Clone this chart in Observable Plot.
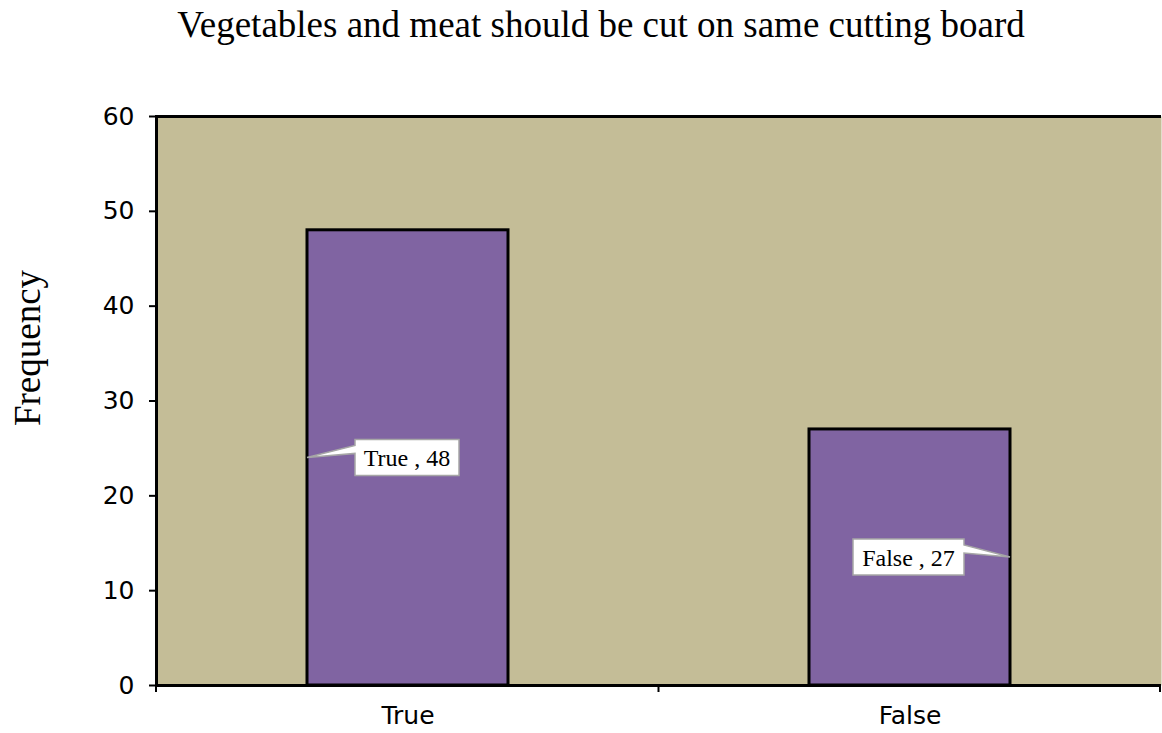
<!DOCTYPE html>
<html>
<head>
<meta charset="utf-8">
<script src="https://cdn.jsdelivr.net/npm/d3@7"></script>
<script src="https://cdn.jsdelivr.net/npm/@observablehq/plot@0.6"></script>
<style>
  html, body { margin: 0; padding: 0; background: white; }
</style>
</head>
<body>
<div id="chart"></div>
<script>
const titleText = "Vegetables and meat should be cut on same cutting board";
const yLabelText = "Frequency";
const categories = ["True", "False"];
const frequencies = [48, 27];
const yTicks = [0, 10, 20, 30, 40, 50, 60];
const calloutSides = ["left", "right"];

const data = categories.map((c, i) => ({category: c, freq: frequencies[i], side: calloutSides[i]}));

const serif = "'Liberation Serif', 'Times New Roman', serif";
const sans = "'DejaVu Sans', Verdana, sans-serif";

function measure(text, font) {
  const ctx = document.createElement("canvas").getContext("2d");
  ctx.font = font;
  return ctx.measureText(text).width;
}

function customLayer() {
  const a = arguments[0], b = arguments[1];
  const scales = (b && typeof b.x === "function") ? b : a;
  const dims = (b && typeof b.x === "function") ? arguments[3] : b;
  const x = scales.x, y = scales.y;
  const bw = x.bandwidth();
  const g = d3.create("svg:g");
  const bottom = y(0);
  // x axis tick marks at band boundaries
  const left = dims.marginLeft, right = dims.width - dims.marginRight;
  const bounds = [left];
  for (let i = 0; i < categories.length - 1; i++) {
    bounds.push((x(categories[i]) + bw + x(categories[i + 1])) / 2);
  }
  bounds.push(right - 1);
  for (const bx of bounds) {
    g.append("line").attr("x1", bx).attr("x2", bx).attr("y1", bottom).attr("y2", bottom + 7)
      .attr("stroke", "black").attr("stroke-width", 2);
  }
  // callouts
  const fontSize = 24;
  const font = fontSize + "px " + serif;
  for (const d of data) {
    const label = d.category + " , " + d.freq;
    const w = Math.round(measure(label, font)) + 18;
    const h = 36;
    const ay = y(d.freq / 2);
    let path, bx;
    const by = ay - h / 2;
    if (d.side === "left") {
      const ax = x(d.category);
      bx = ax + 48;
      path = `M${bx},${by}H${bx + w}V${by + h}H${bx}V${by + 14}L${ax},${ay}L${bx},${by + 6}Z`;
    } else {
      const ax = x(d.category) + bw;
      bx = ax - 46 - w;
      path = `M${bx},${by}H${bx + w}V${by + 6}L${ax},${ay}L${bx + w},${by + 14}V${by + h}H${bx}Z`;
    }
    g.append("path").attr("d", path).attr("fill", "white").attr("stroke", "#a6a6a6").attr("stroke-width", 1.5);
    g.append("text").attr("x", bx + w / 2).attr("y", ay + 1).attr("text-anchor", "middle")
      .attr("dominant-baseline", "central").attr("font-family", serif).attr("font-size", fontSize)
      .attr("fill", "black").text(label);
  }
  return g.node();
}

const chart = Plot.plot({
  width: 1162,
  height: 733,
  marginTop: 116,
  marginLeft: 156,
  marginRight: 1,
  marginBottom: 48,
  style: {background: "white", fontFamily: sans, fontSize: "25px", color: "black"},
  x: {domain: categories, paddingInner: 0.6, paddingOuter: 0.3, axis: null},
  y: {domain: [0, 60], axis: null},
  marks: [
    Plot.frame({fill: "#c4bd97", stroke: null}),
    Plot.barY(data, {x: "category", y: "freq", fill: "#8064a2", stroke: "black", strokeWidth: 3}),
    Plot.frame({anchor: "left", stroke: "black", strokeWidth: 3}),
    Plot.ruleY([0, 60], {stroke: "black", strokeWidth: 3}),
    Plot.axisY({ticks: yTicks, tickSize: 7, tickPadding: 15, strokeWidth: 2, label: null, fontSize: 25, tickFormat: d => String(d)}),
    Plot.axisX({tickSize: 0, tickPadding: 21, label: null, fontSize: 25}),
    Plot.text([titleText], {frameAnchor: "top", lineAnchor: "middle", textAnchor: "middle", dx: -58, dy: -91, fontFamily: serif, fontSize: 37, fill: "black"}),
    Plot.text([yLabelText], {frameAnchor: "left", lineAnchor: "middle", textAnchor: "middle", dx: -128, dy: -53, rotate: -90, fontFamily: serif, fontSize: 37, fill: "black"}),
    customLayer
  ]
});
document.getElementById("chart").appendChild(chart);
</script>
</body>
</html>
